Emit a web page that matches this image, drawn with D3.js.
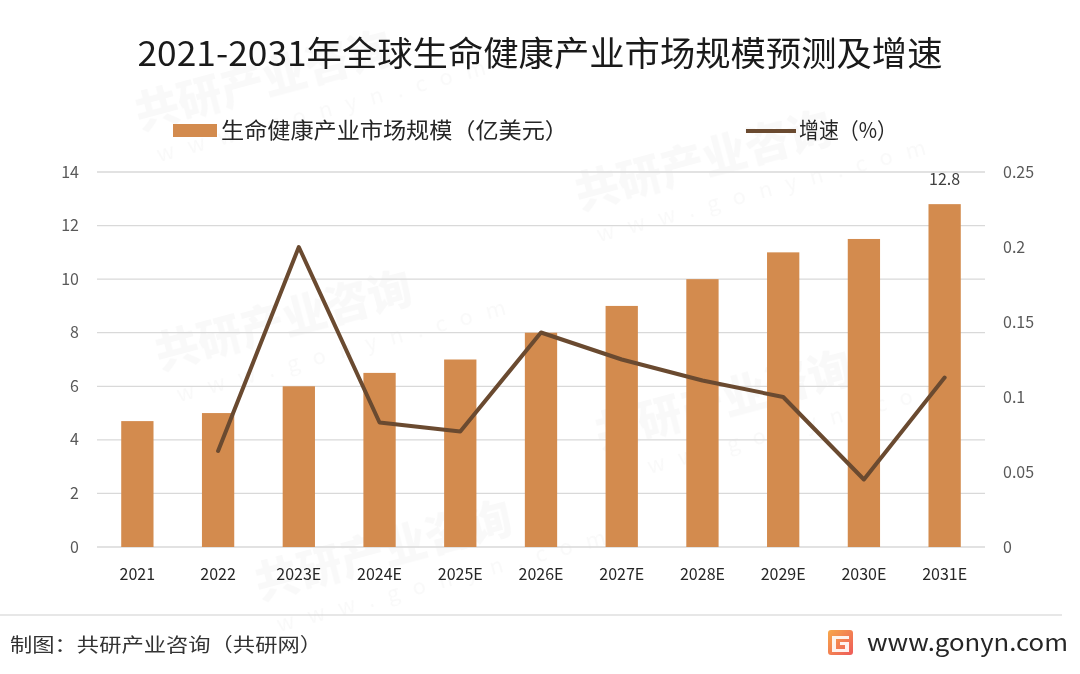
<!DOCTYPE html>
<html>
<head>
<meta charset="utf-8">
<script src="https://cdn.jsdelivr.net/npm/d3@7"></script>
<style>
  html, body { margin: 0; padding: 0; background: #fff; }
  svg { display: block; }
  text { font-family: "Noto Sans CJK SC", "Open Sans", sans-serif; }
</style>
</head>
<body>
<svg id="chart" width="1080" height="674"></svg>
<script>
// ---- data ----
const categories = ["2021","2022","2023E","2024E","2025E","2026E","2027E","2028E","2029E","2030E","2031E"];
const marketSize = [4.7, 5.0, 6.0, 6.5, 7.0, 8.0, 9.0, 10.0, 11.0, 11.5, 12.8];
const growthRate = [null, 0.064, 0.2, 0.083, 0.077, 0.143, 0.125, 0.111, 0.1, 0.045, 0.113];
const leftTicks = [0, 2, 4, 6, 8, 10, 12, 14];
const rightTicks = [0, 0.05, 0.1, 0.15, 0.2, 0.25];
const barLabelIndex = [10];

const title = "2021-2031年全球生命健康产业市场规模预测及增速";
const legendBar = "生命健康产业市场规模（亿美元）";
const legendLine = "增速（%）";
const sourceText = "制图：共研产业咨询（共研网）";
const siteText = "www.gonyn.com";

const barColor = "#D38B4E";
const lineColor = "#6A4A30";

const svg = d3.select("#chart");
const W = 1080, H = 674;
const m = {left: 97, right: 95, top: 172, bottom: 127};
const innerW = W - m.left - m.right;
const innerH = H - m.top - m.bottom;

// faint watermarks (kept inside the picture)
const wm = svg.append("g").attr("fill", "#000").attr("opacity", 0.025);
const wmPos = [[140,130],[580,210],[160,370],[600,450],[260,600]];
wmPos.forEach(([x,y]) => {
  const g = wm.append("g").attr("transform", `translate(${x},${y}) rotate(-15)`);
  g.append("text").attr("x", 0).attr("y", 0).attr("font-size", 44).attr("font-weight", 900).text("共研产业咨询");
  g.append("text").attr("x", 10).attr("y", 36).attr("font-size", 22).attr("letter-spacing", 14).text("www.gonyn.com");
});

const x = d3.scaleBand().domain(categories).range([m.left, m.left + innerW]).paddingInner(0.6).paddingOuter(0.3);
const yL = d3.scaleLinear().domain([0, 14]).range([m.top + innerH, m.top]);
const yR = d3.scaleLinear().domain([0, 0.25]).range([m.top + innerH, m.top]);

// gridlines
svg.append("g").selectAll("line").data(leftTicks).join("line")
  .attr("x1", m.left).attr("x2", m.left + innerW)
  .attr("y1", d => yL(d)).attr("y2", d => yL(d))
  .attr("stroke", "#d9d9d9").attr("stroke-width", 1.3);

// left axis
const axL = svg.append("g").attr("transform", `translate(${m.left},0)`)
  .call(d3.axisLeft(yL).tickValues(leftTicks).tickSize(0).tickPadding(18).tickFormat(d3.format("d")));
axL.select(".domain").remove();
axL.selectAll("text").attr("font-size", 16).attr("fill", "#595959").attr("font-family", "'Open Sans', sans-serif");

// right axis
const axR = svg.append("g").attr("transform", `translate(${m.left + innerW},0)`)
  .call(d3.axisRight(yR).tickValues(rightTicks).tickSize(0).tickPadding(18).tickFormat(d => String(+d.toFixed(2))));
axR.select(".domain").remove();
axR.selectAll("text").attr("font-size", 16).attr("fill", "#595959").attr("font-family", "'Open Sans', sans-serif");

// x axis
const axX = svg.append("g").attr("transform", `translate(0,${m.top + innerH})`)
  .call(d3.axisBottom(x).tickSize(0).tickPadding(22));
axX.select(".domain").remove();
axX.selectAll("text").attr("font-size", 16).attr("fill", "#262626").attr("font-family", "'Open Sans', sans-serif");

// bars
svg.append("g").selectAll("rect").data(categories).join("rect")
  .attr("x", d => x(d))
  .attr("width", x.bandwidth())
  .attr("y", (d,i) => yL(marketSize[i]))
  .attr("height", (d,i) => yL(0) - yL(marketSize[i]))
  .attr("fill", barColor);

// bar label
svg.append("g").selectAll("text").data(barLabelIndex).join("text")
  .attr("x", i => x(categories[i]) + x.bandwidth()/2)
  .attr("y", i => yL(marketSize[i]) - 19)
  .attr("text-anchor", "middle")
  .attr("font-size", 16).attr("fill", "#404040").attr("font-family", "'Open Sans', sans-serif")
  .text(i => marketSize[i]);

// line
const lineData = categories.map((c,i) => ({c, v: growthRate[i]})).filter(d => d.v !== null);
svg.append("path").datum(lineData)
  .attr("fill", "none").attr("stroke", lineColor).attr("stroke-width", 4)
  .attr("stroke-linejoin", "round").attr("stroke-linecap", "round")
  .attr("d", d3.line().x(d => x(d.c) + x.bandwidth()/2).y(d => yR(d.v)));

// title
svg.append("text").attr("x", 540).attr("y", 66).attr("text-anchor", "middle")
  .attr("font-size", 34).attr("fill", "#1a1a1a")
  .attr("textLength", 805).attr("lengthAdjust", "spacingAndGlyphs")
  .text(title);

// legend
svg.append("rect").attr("x", 173).attr("y", 124).attr("width", 44).attr("height", 13).attr("fill", barColor);
svg.append("text").attr("x", 221).attr("y", 138).attr("font-size", 22).attr("fill", "#262626")
  .attr("textLength", 347).attr("lengthAdjust", "spacingAndGlyphs").text(legendBar);
svg.append("line").attr("x1", 746).attr("x2", 796).attr("y1", 131).attr("y2", 131)
  .attr("stroke", lineColor).attr("stroke-width", 4);
svg.append("text").attr("x", 799).attr("y", 138).attr("font-size", 22).attr("fill", "#262626")
  .attr("textLength", 98).attr("lengthAdjust", "spacingAndGlyphs").text(legendLine);

// footer
svg.append("line").attr("x1", 0).attr("x2", 1062).attr("y1", 615).attr("y2", 615)
  .attr("stroke", "#d0d0d0").attr("stroke-width", 1.2);
svg.append("text").attr("x", 10).attr("y", 652).attr("font-size", 19).attr("fill", "#333")
  .attr("textLength", 312).attr("lengthAdjust", "spacingAndGlyphs").text(sourceText);

// logo
const defs = svg.append("defs");
const grad = defs.append("linearGradient").attr("id", "lg").attr("x1", "0").attr("y1", "0").attr("x2", "1").attr("y2", "1");
grad.append("stop").attr("offset", "0%").attr("stop-color", "#F7A84A");
grad.append("stop").attr("offset", "100%").attr("stop-color", "#EE5A5A");
const logo = svg.append("g").attr("transform", "translate(828,630)");
logo.append("rect").attr("width", 25).attr("height", 25).attr("rx", 3).attr("fill", "url(#lg)");
logo.append("path").attr("d", "M4,6 H21 V9 H8 V19 H17 V15 H12 V12 H21 V22 H4 Z").attr("fill", "#fff").attr("opacity", 0.9);
svg.append("text").attr("x", 867).attr("y", 651).attr("font-size", 23).attr("fill", "#262626")
  .attr("font-family", "'Open Sans', sans-serif")
  .attr("textLength", 201).attr("lengthAdjust", "spacingAndGlyphs").text(siteText);
</script>
</body>
</html>
